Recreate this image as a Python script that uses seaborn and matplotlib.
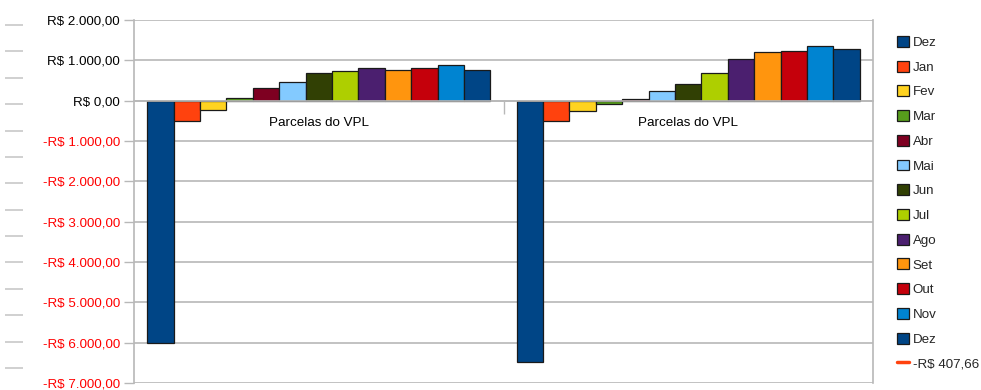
import matplotlib
matplotlib.use("Agg")
import matplotlib.pyplot as plt
import seaborn as sns
import pandas as pd
from matplotlib.patches import Patch
from matplotlib.lines import Line2D
from matplotlib.ticker import FixedLocator, FuncFormatter

# ---- data ----
categories = ["Parcelas do VPL (1)", "Parcelas do VPL (2)"]
category_labels = ["Parcelas do VPL", "Parcelas do VPL"]
series_keys = ["Dez0", "Jan", "Fev", "Mar", "Abr", "Mai", "Jun", "Jul", "Ago", "Set", "Out", "Nov", "Dez"]
series_labels = ["Dez", "Jan", "Fev", "Mar", "Abr", "Mai", "Jun", "Jul", "Ago", "Set", "Out", "Nov", "Dez"]
values_group1 = [-6000, -495, -225, 70, 305, 465, 695, 735, 800, 760, 798, 885, 768]
values_group2 = [-6490, -495, -265, -75, 45, 240, 420, 695, 1040, 1205, 1238, 1346, 1272]
line_label = "-R$ 407,66"
palette = ["#004586", "#ff420e", "#ffd320", "#579d1c", "#7e0021", "#83caff",
           "#314004", "#aecf00", "#4b1f6f", "#ff950e", "#c5000b", "#0084d1", "#004586"]
y_ticks = [2000, 1000, 0, -1000, -2000, -3000, -4000, -5000, -6000, -7000]

rows = []
for cat, vals in zip(categories, [values_group1, values_group2]):
    for k, v in zip(series_keys, vals):
        rows.append({"cat": cat, "serie": k, "valor": v})
df = pd.DataFrame(rows)

sns.set_theme(style="white")
plt.rcParams["font.family"] = ["Liberation Sans", "DejaVu Sans"]

W, H = 981, 390
FS = 9.6
fig = plt.figure(figsize=(W / 100, H / 100), dpi=100)
ax = fig.add_axes([134 / W, 7 / H, (873 - 134) / W, (383 - 20) / H])

sns.barplot(data=df, x="cat", y="valor", hue="serie", hue_order=series_keys,
            order=categories, palette=palette, width=13 / 14, gap=0,
            edgecolor="#1a1a1a", linewidth=0.9, legend=False, ax=ax,
            saturation=1, errorbar=None)

grid_c = "#b8b8b8"
ax.set_ylim(-7000, 2000)
ax.set_xlim(-0.5, 1.5)
ax.yaxis.set_major_locator(FixedLocator(y_ticks))
ax.grid(axis="y", color=grid_c, linewidth=1.2)
ax.set_axisbelow(True)

def fmt(v, pos=None):
    s = f"{abs(v):,.2f}".replace(",", "X").replace(".", ",").replace("X", ".")
    return ("-R$ " if v < 0 else "R$ ") + s

ax.yaxis.set_major_formatter(FuncFormatter(fmt))
ax.tick_params(axis="y", which="major", left=True, length=7, width=1,
               color=grid_c, pad=3, labelsize=FS)
for lbl in ax.get_yticklabels():
    lbl.set_color("#ff0000" if lbl.get_text().startswith("-") else "#000000")

ax.spines["bottom"].set_position(("data", 0))
for s in ["left", "right", "bottom", "top"]:
    ax.spines[s].set_color(grid_c)
    ax.spines[s].set_linewidth(1.2)
ax.spines["top"].set_visible(False)

ax.set_xticks([0, 1])
ax.set_xticklabels(category_labels)
ax.set_xticks([0.5], minor=True)
ax.tick_params(axis="x", which="major", length=0, pad=12, labelsize=FS, colors="#000000")
ax.tick_params(axis="x", which="minor", bottom=True, length=9, width=1, color=grid_c)
ax.set_xlabel("")
ax.set_ylabel("")

# decorative secondary axis ticks at far left
ax2 = fig.add_axes([23 / W, (390 - 368) / H, 0.0001, (368 - 25) / H])
ax2.set_ylim(0, 13)
ax2.set_yticks(range(14))
ax2.set_yticklabels([])
ax2.set_xticks([])
for s in ax2.spines.values():
    s.set_visible(False)
ax2.tick_params(axis="y", left=True, length=13, width=1.2, color="#c8c8c8")
ax2.patch.set_alpha(0)

# legend
handles = [Patch(facecolor=c, edgecolor="#1a1a1a", linewidth=0.9) for c in palette]
handles.append(Line2D([], [], color="#ff420e", linewidth=2.5))
labels = series_labels + [line_label]
fig.legend(handles, labels, loc="upper left", bbox_to_anchor=(897 / W, (390 - 36) / H),
           frameon=False, fontsize=FS, borderpad=0, borderaxespad=0,
           handlelength=0.88, handleheight=0.88, handletextpad=0.3,
           labelspacing=0.875)

fig.savefig("out.png", dpi=100)
